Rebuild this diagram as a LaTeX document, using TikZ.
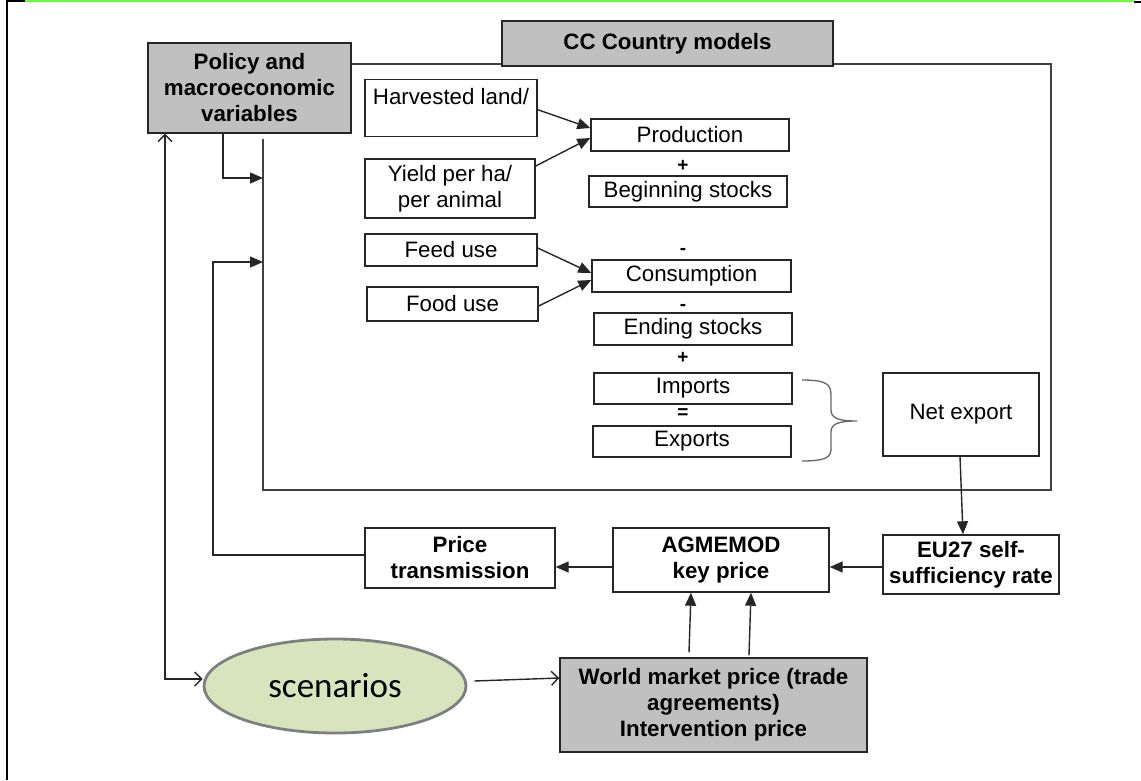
\documentclass[tikz,border=0pt]{standalone}
\usepackage{fontspec}
\setmainfont{Liberation Sans}
\newfontfamily\calib{Carlito}
\usetikzlibrary{arrows.meta,shapes.geometric}
\definecolor{boxgray}{HTML}{C0C0C0}
\definecolor{scenfill}{HTML}{D7E4BD}
\definecolor{scenline}{HTML}{7F7F7F}
\definecolor{topgreen}{RGB}{102,255,51}
\tikzset{
  box/.style={draw=black!85, line width=1.4pt, inner sep=0pt, align=center,
              font=\fontsize{22.3}{26}\selectfont},
  graybox/.style={box, fill=boxgray, font=\fontsize{22.3}{26}\selectfont\bfseries},
  boldbox/.style={box, fill=white, font=\fontsize{22.3}{26}\selectfont\bfseries},
  sign/.style={inner sep=0pt, font=\fontsize{19}{20}\selectfont\bfseries},
  conn/.style={draw=black!85, line width=1.4pt},
  fillarrow/.style={conn, -{Triangle[length=13pt,width=11pt]}},
  openarrow/.style={conn, -{Straight Barb[length=7pt,width=14pt]}},
  frameline/.style={draw=black!75, line width=1.8pt},
}
\begin{document}
\begin{tikzpicture}[x=1pt,y=-1pt]
\useasboundingbox (0,0) rectangle (1141,780);
% page border artefacts
\draw[topgreen, line width=2pt] (7,1) -- (1134,1);
\draw[black, line width=2.5pt] (7,1) -- (25,1);
\draw[black, line width=2pt] (1134,1.5) -- (1141,1.5);
\draw[black, line width=2.5pt] (7,0) -- (7,780);

% nodes
\node[graybox, minimum width=203, minimum height=90] (policy) at (249.5,88) {Policy and\\macroeconomic\\variables};

\coordinate (ftr) at (1051,64);
\coordinate (fbr) at (1051,490);
\coordinate (fbl) at (263,490);
\coordinate (ftl) at (263,139);
\coordinate (fa1) at (263,178);
\coordinate (fa2) at (263,262);
\coordinate (fb1) at (213,262);
\draw[frameline] ([yshift=24pt]policy.east) -- (ftr) -- (fbr) -- (fbl) -- (ftl);

\node[graybox, minimum width=331, minimum height=45] (cc) at (667.5,43.5) {\raisebox{3pt}{CC Country models}};

\node[box, minimum width=172, minimum height=57, anchor=north] (harv) at (451,79) {\rule{0pt}{19pt}Harvested land/\\\mbox{}};
\node[box, minimum width=170, minimum height=59] (yield) at (450,188.5) {Yield per ha/\\per animal};
\node[box, minimum width=198, minimum height=32] (prod) at (690,135) {Production};
\node[sign] (plus1) at (683,166) {+};
\node[box, minimum width=198, minimum height=31] (beg) at (688,191.5) {Beginning stocks};
\node[box, minimum width=172, minimum height=32] (feed) at (451,250) {Feed use};
\node[box, minimum width=171, minimum height=34] (food) at (452.5,304) {Food use};
\node[sign] (minus1) at (683,251) {-};
\node[box, minimum width=199, minimum height=32] (cons) at (691.5,276) {Consumption};
\node[sign] (minus2) at (683,307) {-};
\node[box, minimum width=198, minimum height=32] (endst) at (693,329) {Ending stocks};
\node[sign] (plus2) at (683,358) {+};
\node[box, minimum width=198, minimum height=31] (imp) at (693,388.5) {Imports};
\node[sign] (eq) at (683,414) {=};
\node[box, minimum width=198, minimum height=31] (exp) at (692,441.5) {Exports};
\node[box, minimum width=156, minimum height=83] (net) at (961,414.5) {Net export};

% brace
\draw[black!60, line width=1.3pt] (802,380) .. controls (826,380) and (831,384) .. (831,395) -- (831,410)
  .. controls (831,418) and (838,421) .. (857,421)
  .. controls (838,421) and (831,424) .. (831,432) -- (831,449)
  .. controls (831,457) and (826,461) .. (802,461);

\node[boldbox, minimum width=176, minimum height=59] (eu) at (971,564.5) {EU27 self-\\sufficiency rate};
\node[boldbox, minimum width=216, minimum height=64] (ag) at (721,560) {AGMEMOD\\key price};
\node[boldbox, minimum width=190, minimum height=60] (pt) at (460,558) {Price\\transmission};
\node[graybox, minimum width=307, minimum height=94] (world) at (713.5,705) {World market price (trade\\agreements)\\Intervention price};
\node[ellipse, draw=scenline, line width=2.8pt, fill=scenfill, minimum width=262, minimum height=94, inner sep=0pt,
      font=\calib\fontsize{35}{40}\selectfont] (scen) at (335,686) {scenarios};

% connectors
\draw[fillarrow] ([yshift=-1.5pt]harv.east) -- ([yshift=7pt]prod.west);
\draw[fillarrow] ([yshift=22.5pt]yield.east) -- ([yshift=-3pt]prod.west);
\draw[fillarrow] ([yshift=2pt]feed.east) -- ([yshift=3pt]cons.west);
\draw[fillarrow] ([yshift=-2pt]food.east) -- ([yshift=-4pt]cons.west);

\draw[fillarrow] ([xshift=-26.5pt]policy.south) |- (fa1);
\draw[fillarrow] ([yshift=3pt]pt.west) -| (fb1) -- (fa2);

\draw[fillarrow] ([xshift=-1pt]net.south) -- ([xshift=-8pt]eu.north);
\draw[fillarrow] ([yshift=-2.5pt]eu.west) -- ([yshift=-7pt]ag.east);
\draw[fillarrow] ([yshift=-7pt]ag.west) -- ([yshift=-9pt]pt.east);

\draw[fillarrow] ([xshift=-24.5pt,yshift=5pt]world.north) -- ([xshift=-30pt]ag.south);
\draw[fillarrow] ([xshift=35.5pt,yshift=2pt]world.north) -- ([xshift=30pt]ag.south);

\draw[conn, {Straight Barb[length=7pt,width=14pt]}-{Straight Barb[length=7pt,width=14pt]}]
  ([xshift=-84.5pt]policy.south) |- ([yshift=7pt]scen.west);
\draw[openarrow] ([xshift=7pt,yshift=5pt]scen.east) -- ([yshift=27pt]world.west);
\end{tikzpicture}
\end{document}
